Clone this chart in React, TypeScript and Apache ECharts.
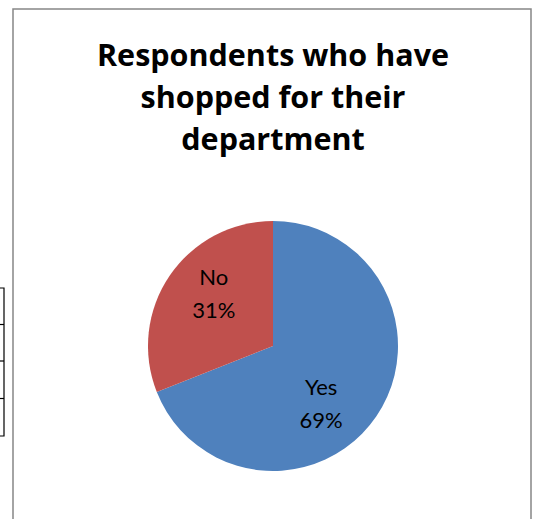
import React, { useEffect, useRef } from "react";
import * as echarts from "echarts";

const categories = ["Yes", "No"];
const values = [69, 31];
const colors = ["#4F81BD", "#C0504D"];
const titleLines = ["Respondents who have", "shopped for their", "department"];

export default function App() {
  const ref = useRef<HTMLDivElement>(null);
  useEffect(() => {
    document.body.style.margin = "0";
    document.body.style.overflow = "hidden";
    const chart = echarts.init(ref.current!, null, { renderer: "svg" });
    const labelShift = [
      { dx: -6, dy: 20 },
      { dx: -5, dy: -16 },
    ];
    chart.setOption({
      animation: false,
      backgroundColor: "#ffffff",
      title: {
        text: titleLines.join("\n"),
        left: 273,
        top: 33,
        padding: 0,
        textAlign: "center",
        textStyle: {
          fontFamily: "Open Sans",
          fontWeight: "bold",
          fontSize: 30.5,
          lineHeight: 42,
          color: "#000000",
        },
      },
      graphic: [
        {
          type: "rect",
          shape: { x: 13, y: 9, width: 518, height: 540 },
          style: { fill: "none", stroke: "#878787", lineWidth: 1.5 },
          z: 10,
        },
        {
          type: "polyline",
          shape: { points: [[0, 288], [4, 288], [4, 436], [0, 436]] },
          style: { fill: "none", stroke: "#000", lineWidth: 1.2 },
        },
        { type: "line", shape: { x1: 0, y1: 324.5, x2: 4, y2: 324.5 }, style: { stroke: "#000", lineWidth: 1.2 } },
        { type: "line", shape: { x1: 0, y1: 361, x2: 4, y2: 361 }, style: { stroke: "#000", lineWidth: 1.2 } },
        { type: "line", shape: { x1: 0, y1: 398.5, x2: 4, y2: 398.5 }, style: { stroke: "#000", lineWidth: 1.2 } },
      ],
      series: [
        {
          type: "pie",
          center: [273, 346],
          radius: 125,
          startAngle: 90,
          clockwise: true,
          data: categories.map((c, i) => ({
            name: c,
            value: values[i],
            itemStyle: { color: colors[i] },
          })),
          label: {
            show: true,
            position: "inside",
            formatter: "{b}\n{d}%",
            fontFamily: "Lato",
            fontSize: 22,
            lineHeight: 33,
            color: "#000000",
          },
          labelLine: { show: false },
          labelLayout: (params: any) => labelShift[params.dataIndex],
          emphasis: { disabled: true },
        },
      ],
    });
    return () => chart.dispose();
  }, []);
  return <div ref={ref} style={{ width: 537, height: 519 }} />;
}
